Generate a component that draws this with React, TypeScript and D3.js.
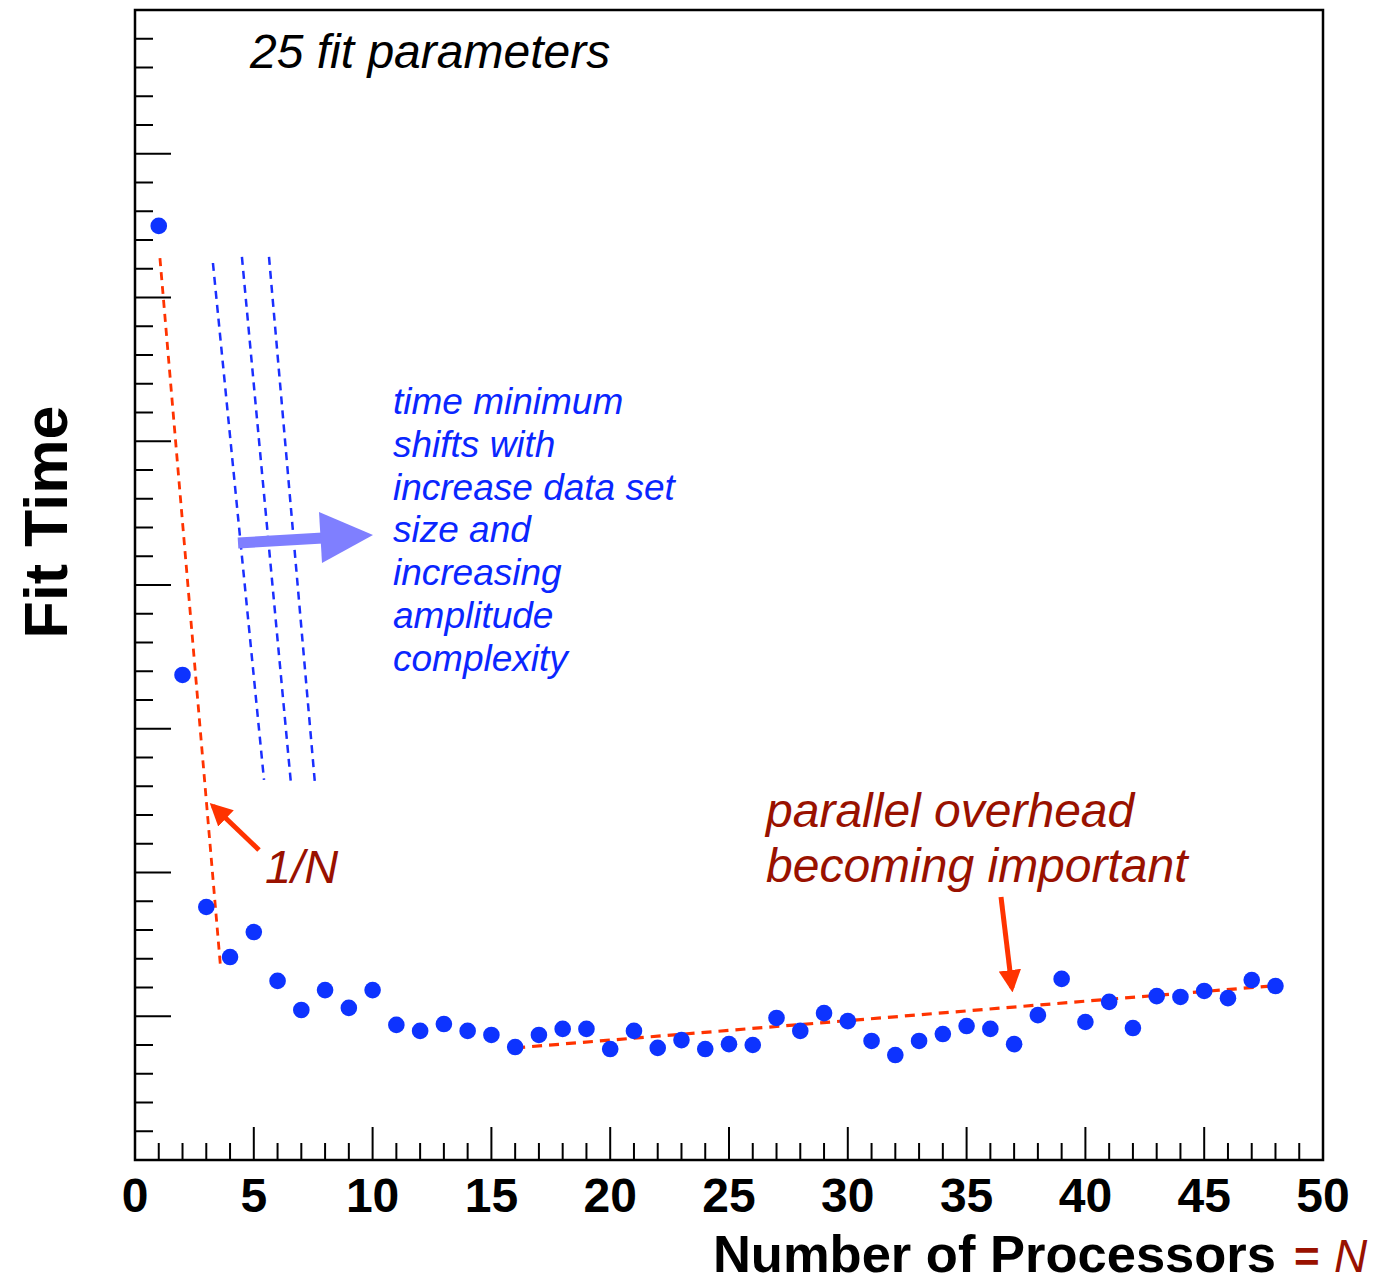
import * as d3 from "d3";

// processors 1..48 and the measured fit time (arbitrary units, y axis has no labels)
const processors = [
  1, 2, 3, 4, 5, 6, 7, 8, 9, 10, 11, 12, 13, 14, 15, 16, 17, 18, 19, 20, 21, 22, 23, 24,
  25, 26, 27, 28, 29, 30, 31, 32, 33, 34, 35, 36, 37, 38, 39, 40, 41, 42, 43, 44, 45, 46, 47, 48,
];
const fitTime = [
  32.49, 16.87, 8.8, 7.06, 7.93, 6.23, 5.22, 5.91, 5.29, 5.91, 4.7, 4.49, 4.73, 4.49, 4.35, 3.93,
  4.35, 4.56, 4.56, 3.86, 4.49, 3.9, 4.17, 3.86, 4.03, 4.0, 4.94, 4.49, 5.11, 4.83, 4.14, 3.65,
  4.14, 4.38, 4.66, 4.56, 4.03, 5.04, 6.3, 4.8, 5.5, 4.59, 5.7, 5.67, 5.88, 5.63, 6.26, 6.05,
];

const xTickLabels = [0, 5, 10, 15, 20, 25, 30, 35, 40, 45, 50];

// guide lines in data coords: [x1, y1, x2, y2]
const oneOverNLine = [1.05, 31.37, 3.6, 6.71];
const overheadLine = [16.0, 3.9, 47.77, 6.05];
const shiftLines = [
  [3.28, 31.2, 5.43, 13.22],
  [4.5, 31.41, 6.57, 13.04],
  [5.64, 31.41, 7.58, 13.04],
];

const blueNote = [
  "time minimum",
  "shifts with",
  "increase data set",
  "size and",
  "increasing",
  "amplitude",
  "complexity",
];

const font = "'Liberation Sans', Arial, Helvetica, sans-serif";
const dotBlue = "#0d33ff";
const red = "#ff3300";
const darkRed = "#991100";

export default function App() {
  const W = 1384;
  const H = 1284;
  const m = { left: 135, right: 61, top: 10, bottom: 124 };
  const x = d3.scaleLinear().domain([0, 50]).range([m.left, W - m.right]);
  const y = d3.scaleLinear().domain([0, 40]).range([H - m.bottom, m.top]);
  const x0 = x(0);
  const y0 = y(0);

  const xTicks = d3.range(0, 51);
  const yTicks = d3.range(0, 41);

  const seg = (s: number[], key: string, color: string, dash: string, w: number) => (
    <line
      key={key}
      x1={x(s[0])}
      y1={y(s[1])}
      x2={x(s[2])}
      y2={y(s[3])}
      stroke={color}
      strokeWidth={w}
      strokeDasharray={dash}
    />
  );

  return (
    <div style={{ position: "absolute", left: 0, top: 0 }}>
      <svg width={W} height={H} style={{ display: "block", background: "#fff" }}>
        <defs>
          <marker
            id="redHead"
            viewBox="0 0 10 10"
            refX="8"
            refY="5"
            markerWidth="4.5"
            markerHeight="4.5"
            orient="auto"
            markerUnits="strokeWidth"
          >
            <path d="M0,0 L10,5 L0,10 z" fill={red} />
          </marker>
        </defs>

        {/* frame */}
        <rect
          x={x0}
          y={y(40)}
          width={x(50) - x0}
          height={y0 - y(40)}
          fill="none"
          stroke="#000"
          strokeWidth={2.5}
        />

        {/* x ticks */}
        {xTicks.map((t) => (
          <line
            key={"xt" + t}
            x1={x(t)}
            x2={x(t)}
            y1={y0}
            y2={y0 - (t % 5 === 0 ? 33 : 17)}
            stroke="#000"
            strokeWidth={2}
          />
        ))}
        {/* y ticks */}
        {yTicks.map((t) => (
          <line
            key={"yt" + t}
            x1={x0}
            x2={x0 + (t % 5 === 0 ? 36 : 18)}
            y1={y(t)}
            y2={y(t)}
            stroke="#000"
            strokeWidth={2}
          />
        ))}

        {xTickLabels.map((t) => (
          <text
            key={"xl" + t}
            x={x(t)}
            y={1212}
            textAnchor="middle"
            fontFamily={font}
            fontWeight="bold"
            fontSize={48}
            fill="#000"
          >
            {t}
          </text>
        ))}

        {/* axis titles */}
        <text x={1276} y={1272} textAnchor="end" fontFamily={font} fontWeight="bold" fontSize={52.5}>
          Number of Processors
        </text>
        <text x={1294} y={1272} fontFamily={font} fontWeight="bold" fontSize={44} fill={darkRed}>
          =
        </text>
        <text x={1334} y={1272} fontFamily={font} fontStyle="italic" fontSize={46} fill={darkRed}>
          N
        </text>
        <text
          transform="translate(67,522) rotate(-90)"
          textAnchor="middle"
          fontFamily={font}
          fontWeight="bold"
          fontSize={61}
        >
          Fit Time
        </text>

        <text x={250} y={68} fontFamily={font} fontStyle="italic" fontSize={48} fill="#000">
          25 fit parameters
        </text>

        {/* guide lines */}
        {seg(oneOverNLine, "oneN", red, "8,6", 2.8)}
        {seg(overheadLine, "ovh", red, "10,7", 3.2)}
        {shiftLines.map((s, i) => seg(s, "sh" + i, "#1a2fff", "8,6", 2.5))}

        {/* shift arrow */}
        <line x1={238} y1={543} x2={323} y2={538} stroke="#7f7fff" strokeWidth={11} />
        <path d="M319,512 L373,535 L322,563 z" fill="#7f7fff" />

        {blueNote.map((s, i) => (
          <text
            key={"bn" + i}
            x={393}
            y={414 + i * 42.8}
            fontFamily={font}
            fontStyle="italic"
            fontSize={37}
            fill="#0a26ff"
          >
            {s}
          </text>
        ))}

        {/* 1/N note */}
        <line x1={259} y1={850} x2={213} y2={806} stroke={red} strokeWidth={5} markerEnd="url(#redHead)" />
        <text x={265} y={883} fontFamily={font} fontStyle="italic" fontSize={47} fill={darkRed}>
          1/N
        </text>

        {/* overhead note */}
        <text x={766} y={827} fontFamily={font} fontStyle="italic" fontSize={48} fill={darkRed}>
          parallel overhead
        </text>
        <text x={766} y={882} fontFamily={font} fontStyle="italic" fontSize={48} fill={darkRed}>
          becoming important
        </text>
        <line x1={1001} y1={897} x2={1012} y2={988} stroke={red} strokeWidth={5} markerEnd="url(#redHead)" />

        {/* data points */}
        {processors.map((p, i) => (
          <circle key={"pt" + p} cx={x(p)} cy={y(fitTime[i])} r={8.3} fill={dotBlue} />
        ))}
      </svg>
    </div>
  );
}
